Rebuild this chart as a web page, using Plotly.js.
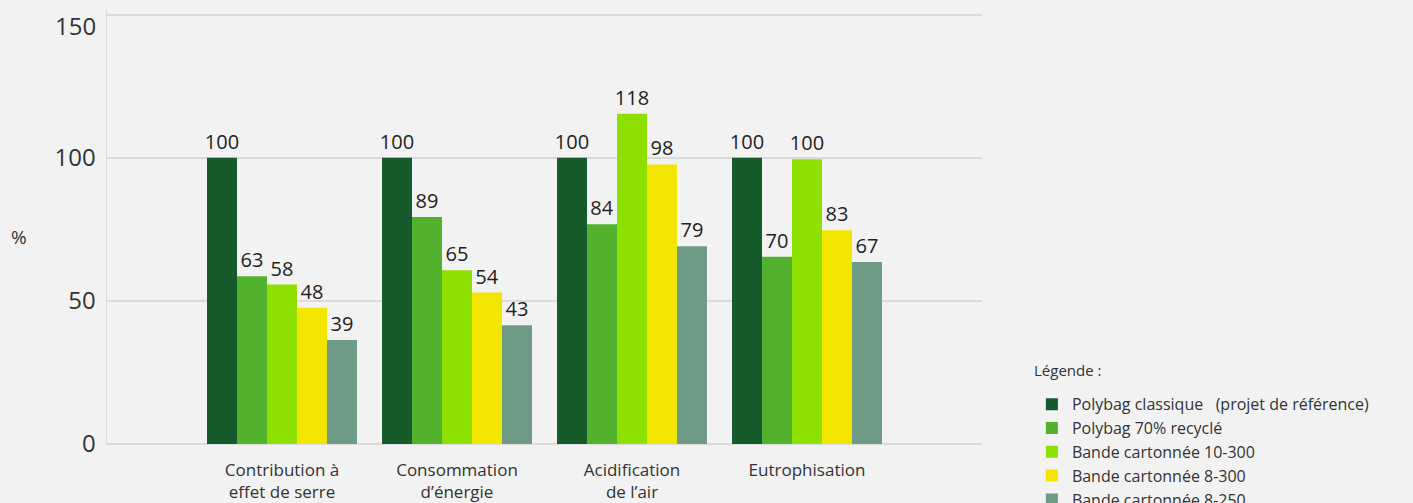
<!DOCTYPE html>
<html>
<head>
<meta charset="utf-8">
<script src="https://cdn.plot.ly/plotly-3.0.1.min.js"></script>
<style>html,body{margin:0;padding:0;background:#f2f2f2;}#chart{width:1413px;height:503px;}</style>
</head>
<body>
<div id="chart"></div>
<script>
const categories = ["Contribution à<br>effet de serre", "Consommation<br>d’énergie", "Acidification<br>de l’air", "Eutrophisation"];
const seriesNames = ["Polybag classique\u00a0\u00a0\u00a0(projet de référence)", "Polybag 70% recyclé", "Bande cartonnée 10-300", "Bande cartonnée 8-300", "Bande cartonnée 8-250"];
const colors = ["#175a2c", "#52b22e", "#8ee000", "#f2e600", "#6e9b85"];
// bar heights as drawn in the picture
const polybagClassique = [100, 100, 100, 100];
const polybagRecycle = [58.6, 79.3, 76.8, 65.4];
const bande10_300 = [55.7, 60.7, 115.4, 99.5];
const bande8_300 = [47.6, 52.9, 97.7, 74.7];
const bande8_250 = [36.3, 41.5, 69.1, 63.6];
// value labels printed on the picture
const labelsPolybagClassique = ["100", "100", "100", "100"];
const labelsPolybagRecycle = ["63", "89", "84", "70"];
const labelsBande10_300 = ["58", "65", "118", "100"];
const labelsBande8_300 = ["48", "54", "98", "83"];
const labelsBande8_250 = ["39", "43", "79", "67"];
const yTicks = [0, 50, 100, 150];

const values = [polybagClassique, polybagRecycle, bande10_300, bande8_300, bande8_250];
const labels = [labelsPolybagClassique, labelsPolybagRecycle, labelsBande10_300, labelsBande8_300, labelsBande8_250];

const FONT = '"Open Sans", sans-serif';
const topTick = yTicks[yTicks.length - 1];

const traces = values.map((v, i) => ({
  type: 'bar',
  name: seriesNames[i],
  x: categories,
  y: v,
  text: labels[i],
  textposition: 'outside',
  constraintext: 'none',
  cliponaxis: false,
  textfont: {family: FONT, size: 20, color: '#222'},
  marker: {color: colors[i], line: {width: 0}},
  legendgroup: 'g' + i,
  hoverinfo: 'skip'
}));

const layout = {
  width: 1413, height: 503,
  paper_bgcolor: '#f2f2f2', plot_bgcolor: '#f2f2f2',
  margin: {l: 107, r: 431, t: 9, b: 59, autoexpand: false},
  barmode: 'group', bargap: 0.143, bargroupgap: 0,
  font: {family: FONT, color: '#333'},
  xaxis: {
    type: 'category', range: [-1, 4], showgrid: false, zeroline: false,
    showline: false, ticks: '', tickfont: {family: FONT, size: 17, color: '#333'},
    ticklabelstandoff: 14, automargin: false, fixedrange: true
  },
  yaxis: {
    range: [0, 152], tickvals: yTicks,
    ticktext: yTicks.map(t => t === topTick ? '' : String(t)),
    showgrid: true, gridcolor: '#dadada', gridwidth: 2,
    zeroline: true, zerolinecolor: '#dadada', zerolinewidth: 2,
    showline: true, linecolor: '#dadada', linewidth: 1.5,
    ticks: '', tickfont: {family: FONT, size: 24, color: '#333'}, ticklabelstandoff: 5,
    ticklabeloverflow: 'allow', automargin: false, fixedrange: true
  },
  showlegend: true,
  legend: {
    x: 1.057, xanchor: 'left', yref: 'container', y: 0.230, yanchor: 'top',
    bgcolor: 'rgba(0,0,0,0)', font: {family: FONT, size: 16, color: '#333'},
    traceorder: 'grouped', tracegroupgap: 0, itemwidth: 30
  },
  annotations: [{
    text: String(topTick), xref: 'paper', yref: 'y', x: 0, y: topTick,
    xanchor: 'right', yanchor: 'middle', xshift: -9, yshift: -11, showarrow: false,
    font: {family: FONT, size: 24, color: '#333'}
  }, {
    text: '%', xref: 'paper', yref: 'paper', x: -0.112, y: 0.475,
    xanchor: 'left', yanchor: 'middle', showarrow: false,
    font: {family: FONT, size: 19, color: '#333'}
  }, {
    text: 'Légende :', xref: 'paper', yref: 'paper', x: 1.057, y: 0.170,
    xanchor: 'left', yanchor: 'middle', showarrow: false,
    font: {family: FONT, size: 15, color: '#333'}
  }]
};

Plotly.newPlot('chart', traces, layout, {displayModeBar: false, staticPlot: true});
</script>
</body>
</html>
